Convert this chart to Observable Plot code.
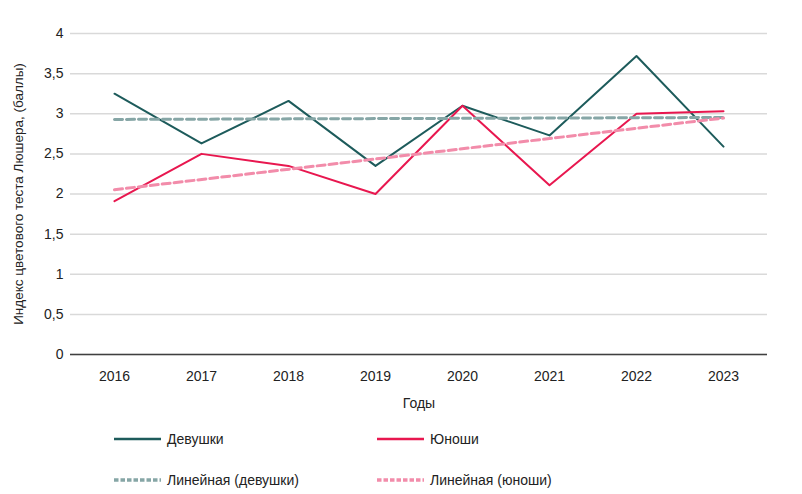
<!DOCTYPE html>
<html>
<head>
<meta charset="utf-8">
<script src="https://cdn.jsdelivr.net/npm/d3@7"></script>
<script src="https://cdn.jsdelivr.net/npm/@observablehq/plot@0.6"></script>
<style>
  html, body { margin: 0; padding: 0; background: #fff; }
  body { width: 802px; height: 494px; overflow: hidden; font-family: "Liberation Sans", Arial, sans-serif; }
  #chart svg { display: block; }
  .legend { display: grid; grid-template-columns: 263px 263px; row-gap: 21px; padding-left: 114px; margin-top: 9px; }
  .item { display: flex; align-items: center; height: 20px; font-size: 14px; color: #222; }
  .item svg { margin-right: 6px; }
</style>
</head>
<body>
<div id="chart"></div>
<div class="legend" id="legend"></div>
<script>
const years = [2016, 2017, 2018, 2019, 2020, 2021, 2022, 2023];
const girls = [3.25, 2.63, 3.16, 2.35, 3.1, 2.73, 3.72, 2.59];
const boys  = [1.91, 2.5, 2.35, 2.0, 3.1, 2.11, 3.0, 3.03];
const yTicks = [0, 0.5, 1, 1.5, 2, 2.5, 3, 3.5, 4];
const seriesNames = ["Девушки", "Юноши"];
const trendNames = ["Линейная (девушки)", "Линейная (юноши)"];
const yTitle = "Индекс цветового теста Люшера, (баллы)";
const xTitle = "Годы";

const colors = { girls: "#1d5b5b", boys: "#e8174f", girlsTrend: "#86a6a6", boysTrend: "#f28caa" };

const girlsData = years.map((y, i) => ({ year: y, v: girls[i] }));
const boysData = years.map((y, i) => ({ year: y, v: boys[i] }));

const chart = Plot.plot({
  width: 802,
  height: 420,
  marginTop: 33,
  marginBottom: 66,
  marginLeft: 70,
  marginRight: 35,
  style: { fontFamily: "Liberation Sans, Arial, sans-serif", fontSize: "14px", color: "#222" },
  x: { type: "point", domain: years, padding: 0.5, label: null },
  y: { domain: [0, 4], label: null },
  marks: [
    Plot.gridY(yTicks, { stroke: "#d9d9d9", strokeOpacity: 1, strokeWidth: 1.5 }),
    Plot.axisY(yTicks, { tickSize: 0, tickPadding: 7, tickFormat: d => String(d).replace(".", ","), fontSize: 14, label: null }),
    Plot.axisX(years, { tickSize: 0, tickPadding: 17, tickFormat: d => String(d), fontSize: 14, label: null }),
    Plot.ruleY([0], { stroke: "#404040", strokeWidth: 1.6 }),
    Plot.line(girlsData, { x: "year", y: "v", stroke: colors.girls, strokeWidth: 2 }),
    Plot.line(boysData, { x: "year", y: "v", stroke: colors.boys, strokeWidth: 2 }),
    Plot.linearRegressionY(girlsData, { x: "year", y: "v", stroke: colors.girlsTrend, strokeWidth: 3, strokeDasharray: "8,4", ci: 0 }),
    Plot.linearRegressionY(boysData, { x: "year", y: "v", stroke: colors.boysTrend, strokeWidth: 3, strokeDasharray: "8,4", ci: 0 }),
    Plot.text([yTitle], { text: d => d, frameAnchor: "left", textAnchor: "middle", dx: -52, dy: 0, rotate: -90, fontSize: 13.5, fill: "#222" }),
    Plot.text([xTitle], { text: d => d, frameAnchor: "bottom", dy: 53, fontSize: 14, fill: "#222" })
  ]
});
document.getElementById("chart").appendChild(chart);

const legendItems = [
  { name: seriesNames[0], color: colors.girls, dash: null },
  { name: seriesNames[1], color: colors.boys, dash: null },
  { name: trendNames[0], color: colors.girlsTrend, dash: "4.5,2" },
  { name: trendNames[1], color: colors.boysTrend, dash: "4.5,2" }
];
const legend = document.getElementById("legend");
for (const it of legendItems) {
  const div = document.createElement("div");
  div.className = "item";
  div.innerHTML = `<svg width="47" height="6"><line x1="0" x2="47" y1="3" y2="3" stroke="${it.color}" stroke-width="${it.dash ? 3.5 : 2.5}" ${it.dash ? `stroke-dasharray="${it.dash}"` : ""}/></svg><span>${it.name}</span>`;
  legend.appendChild(div);
}
</script>
</body>
</html>
